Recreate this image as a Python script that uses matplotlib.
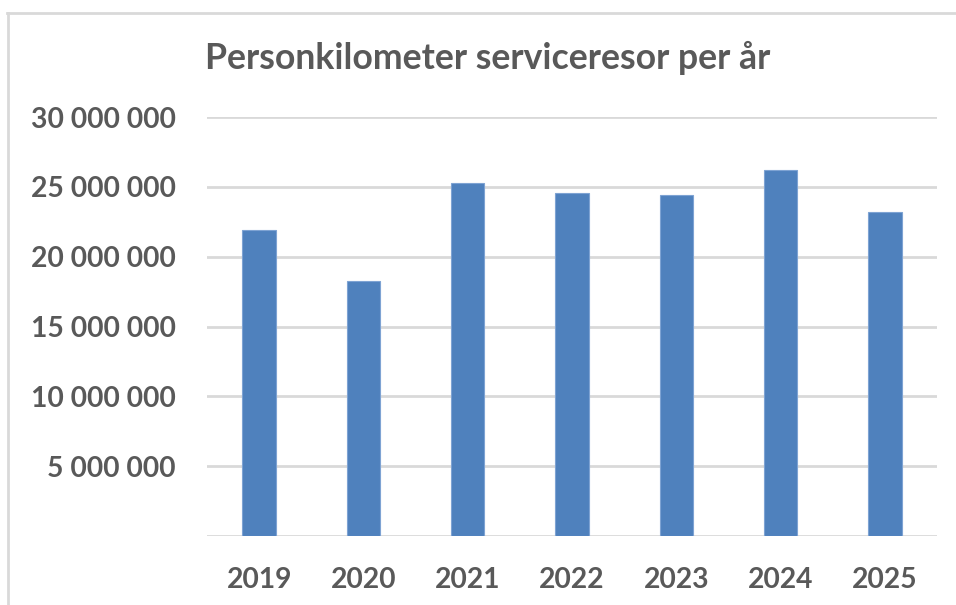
import matplotlib
matplotlib.use("Agg")
import matplotlib.pyplot as plt
from matplotlib.lines import Line2D
from matplotlib.ticker import FuncFormatter

years = ["2019", "2020", "2021", "2022", "2023", "2024", "2025"]
values = [21_930_000, 18_260_000, 25_310_000, 24_550_000, 24_390_000, 26_170_000, 23_190_000]
yticks = [0, 5_000_000, 10_000_000, 15_000_000, 20_000_000, 25_000_000, 30_000_000]
title = "Personkilometer serviceresor per år"

plt.rcParams['font.family'] = ['Lato', 'DejaVu Sans']
text_color = "#595959"
grid_color = "#d9d9d9"
bar_color = "#4f81bd"

fig = plt.figure(figsize=(9.56, 6.05), dpi=100)
ax = fig.add_axes([207/956, 1-536/605, (937-207)/956, (536-117)/605])

x = list(range(len(years)))
ax.bar(x, values, width=0.32, color=bar_color, edgecolor="#7ea3d3", linewidth=0.8, zorder=3)
ax.set_xlim(-0.5, len(years) - 0.5)
ax.set_ylim(0, 30_000_000)
ax.set_yticks(yticks)

def fmt(v, pos):
    if v == 0:
        return ""
    return f"{int(v):,}".replace(",", " ")

ax.yaxis.set_major_formatter(FuncFormatter(fmt))
ax.set_xticks(x)
ax.set_xticklabels(years)
for s in ax.spines.values():
    s.set_visible(False)
ax.grid(axis="y", color=grid_color, linewidth=2, zorder=0)
ax.tick_params(axis="both", length=0, labelsize=20.3, labelcolor=text_color)
ax.tick_params(axis="y", pad=22.5)
ax.tick_params(axis="x", pad=22)
for lab in ax.get_xticklabels() + ax.get_yticklabels():
    lab.set_fontweight("bold")

fig.text(487.5/956, 1-58/605, title, ha="center", va="center", fontsize=25.7,
         fontweight="bold", color=text_color)

# chart-area border (light grey)
fig.add_artist(Line2D([7.5/956, 7.5/956], [0, 1-13/605], transform=fig.transFigure,
                      color=grid_color, linewidth=2))
fig.add_artist(Line2D([7/956, 1], [1-13/605, 1-13/605], transform=fig.transFigure,
                      color=grid_color, linewidth=2))

fig.savefig("out.png", dpi=100, facecolor="white")
